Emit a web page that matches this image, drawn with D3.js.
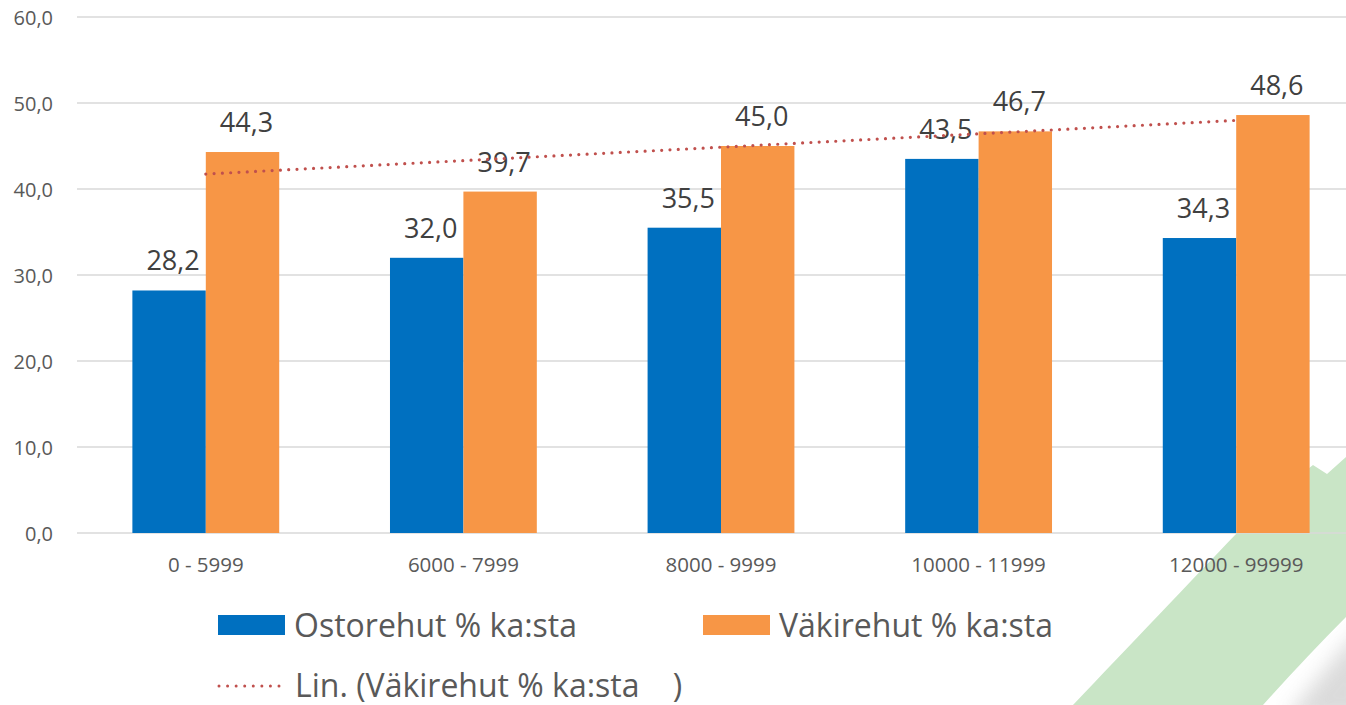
<!DOCTYPE html>
<html><head><meta charset="utf-8">
<script src="https://cdn.jsdelivr.net/npm/d3@7"></script>
<style>
html,body{margin:0;padding:0;background:#fff;overflow:hidden}
svg{display:block;font-family:"Open Sans",sans-serif}
</style></head>
<body>
<svg id="chart" width="1346" height="705"></svg>
<script>
const categories = ["0 - 5999","6000 - 7999","8000 - 9999","10000 - 11999","12000 - 99999"];
const ostorehut = [28.2, 32.0, 35.5, 43.5, 34.3];
const vakirehut = [44.3, 39.7, 45.0, 46.7, 48.6];
const yTicks = [0,10,20,30,40,50,60];
const seriesNames = ["Ostorehut % ka:sta","Väkirehut % ka:sta"];
const trendName = "Lin. (Väkirehut % ka:sta    )";

const svg = d3.select("#chart");
const W = 1346, H = 705;
const fmt = v => d3.format(".1f")(v).replace(".", ",");

// decorative background swoosh (bottom right)
const defs = svg.append("defs");
defs.append("filter").attr("id","blur").append("feGaussianBlur").attr("stdDeviation", 10);
svg.append("path")
  .attr("d","M1285,720 C1310,690 1335,655 1365,625 L1370,720 Z")
  .attr("fill","#bdbdbd").attr("opacity",0.55).attr("filter","url(#blur)");
svg.append("path")
  .attr("d","M1073,705 C1130,645 1190,582 1237,533 C1265,503 1290,483 1313,465 L1327,474 L1346,457 L1346,617 C1318,645 1290,675 1263,705 Z")
  .attr("fill","#c9e5c6");

const y = d3.scaleLinear().domain([0,60]).range([533,17]);
const x0 = d3.scaleBand().domain(categories).range([77,1365]).paddingInner(0.43).paddingOuter(0.215);
const x1 = d3.scaleBand().domain([0,1]).range([0,x0.bandwidth()]);

// gridlines
svg.append("g").selectAll("line").data(yTicks).join("line")
  .attr("x1",77).attr("x2",W).attr("y1",d=>y(d)).attr("y2",d=>y(d))
  .attr("stroke","#d9d9d9").attr("stroke-width",1.5);

// y axis labels
const yAxis = d3.axisLeft(y).tickValues(yTicks).tickFormat(fmt).tickSize(0).tickPadding(0);
const ya = svg.append("g").attr("transform","translate(53,0)").call(yAxis);
ya.select(".domain").remove();
ya.selectAll("text").attr("font-size",20).attr("fill","#595959").attr("font-family","Open Sans").attr("dy","0.35em");

// x axis labels
const xAxis = d3.axisBottom(x0).tickSize(0).tickPadding(0);
const xa = svg.append("g").attr("transform","translate(0,572)").call(xAxis);
xa.select(".domain").remove();
xa.selectAll("text").attr("font-size",20.5).attr("fill","#595959").attr("font-family","Open Sans").attr("dy","0");

const rows = categories.map((c,i)=>({c, vals:[ostorehut[i], vakirehut[i]]}));
const colors = ["#0070c0","#f79646"];

const g = svg.append("g").selectAll("g").data(rows).join("g")
  .attr("transform",d=>`translate(${x0(d.c)},0)`);
g.selectAll("rect").data(d=>d.vals.map((v,k)=>({v,k}))).join("rect")
  .attr("x",d=>x1(d.k)).attr("width",x1.bandwidth())
  .attr("y",d=>y(d.v)).attr("height",d=>y(0)-y(d.v))
  .attr("fill",d=>colors[d.k]);

// trendline (least squares on Väkirehut)
const n = vakirehut.length;
const xs = d3.range(1,n+1);
const mx = d3.mean(xs), my = d3.mean(vakirehut);
const slope = d3.sum(xs.map((xv,i)=>(xv-mx)*(vakirehut[i]-my))) / d3.sum(xs.map(xv=>(xv-mx)**2));
const icpt = my - slope*mx;
const trendPts = [0, n-1].map(i=>[x0(categories[i])+x0.bandwidth()/2, y(icpt + slope*(i+1))]);
svg.append("path").attr("d", d3.line()(trendPts))
  .attr("fill","none").attr("stroke","#c0504d").attr("stroke-width",3.2)
  .attr("stroke-linecap","round").attr("stroke-dasharray","0 8.3");

// data labels
g.selectAll("text.lbl").data(d=>d.vals.map((v,k)=>({v,k}))).join("text")
  .attr("class","lbl")
  .attr("x",d=>x1(d.k)+x1.bandwidth()/2+4).attr("y",d=>y(d.v)-20)
  .attr("text-anchor","middle").attr("font-size",27).attr("fill","#404040")
  .text(d=>fmt(d.v));

// legend
const leg = svg.append("g").attr("font-size",32).attr("fill","#595959");
const legItems = [{x:218,name:seriesNames[0],c:colors[0]},{x:703,name:seriesNames[1],c:colors[1]}];
legItems.forEach(it=>{
  leg.append("rect").attr("x",it.x).attr("y",615).attr("width",67).attr("height",20).attr("fill",it.c);
  leg.append("text").attr("x",it.x+76).attr("y",637).text(it.name);
});
leg.append("line").attr("x1",219).attr("x2",279).attr("y1",686).attr("y2",686)
  .attr("stroke","#c0504d").attr("stroke-width",3).attr("stroke-linecap","round").attr("stroke-dasharray","0 8.57");
leg.append("text").attr("x",295).attr("y",697).attr("xml:space","preserve").style("white-space","pre").text(trendName);
</script>
</body></html>
